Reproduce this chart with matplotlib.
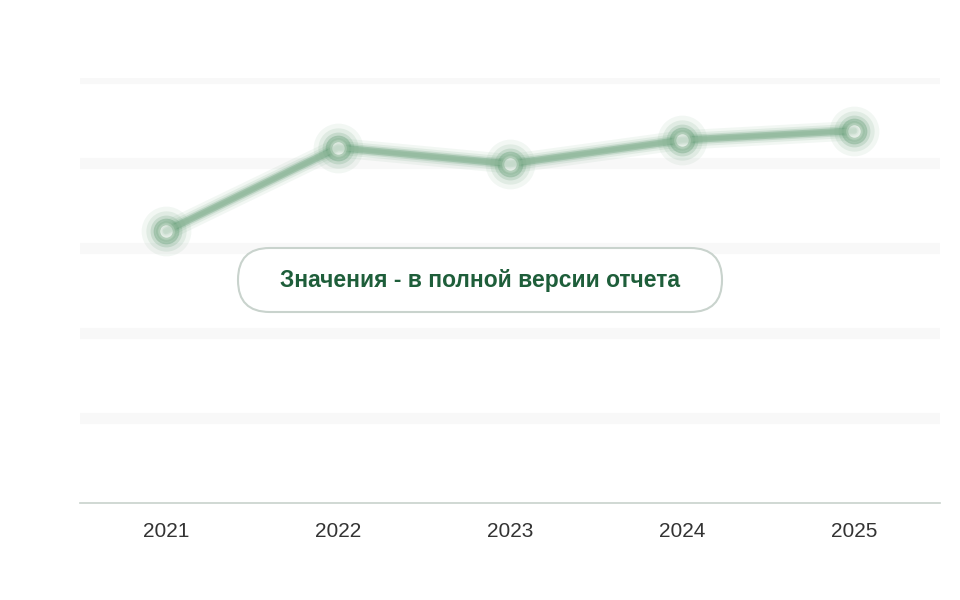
import matplotlib.pyplot as plt
from matplotlib.patches import FancyBboxPatch

years = [2021, 2022, 2023, 2024, 2025]
values = [3.2, 4.18, 3.99, 4.27, 4.38]
grid_levels = [1, 2, 3, 4, 5]

fig = plt.figure(figsize=(9.6, 6), dpi=100)
ax = fig.add_axes([80 / 960, 97 / 600, 860 / 960, 425 / 600])
ax.set_xlim(2020.5, 2025.5)
ax.set_ylim(0, 5)

for g in grid_levels:
    ax.axhline(g, color='#f8f8f8', lw=8, zorder=0)

# blurred line: stacked translucent strokes
for lw, ms, a in [(14, 26, 0.08), (10, 22, 0.12), (7, 18, 0.2), (5, 15, 0.35)]:
    ax.plot(years, values, color='#5f9a72', lw=lw, alpha=a, marker='o',
            ms=ms, mfc='none', mew=lw * 0.7, solid_capstyle='round')
ax.plot(years, values, color='#8fb89a', lw=3, alpha=0.6, marker='o', ms=12,
        mfc='#e6efe8', mec='#8fb89a', mew=3)

for s in ['top', 'right', 'left']:
    ax.spines[s].set_visible(False)
ax.spines['bottom'].set_color('#c8d2cc')
ax.spines['bottom'].set_linewidth(1.2)
ax.set_yticks([])
ax.set_xticks(years)
ax.set_xticklabels([str(y) for y in years], fontsize=15, color='#333333',
                   family=['Liberation Sans', 'DejaVu Sans'])
ax.tick_params(axis='x', length=0, pad=14)

box = FancyBboxPatch((238 / 960, (600 - 312) / 600), 484 / 960, 64 / 600,
                     boxstyle='round,pad=0,rounding_size=0.033',
                     transform=fig.transFigure, facecolor='white',
                     edgecolor='#c9d3cd', lw=1.5, mutation_aspect=1.6)
fig.patches.append(box)
fig.text(480 / 960, (600 - 280) / 600, 'Значения - в полной версии отчета',
         ha='center', va='center', fontsize=16.5, fontweight='bold',
         color='#1e5e3a', family=['Liberation Sans', 'DejaVu Sans'])

fig.savefig('out.png', dpi=100)
